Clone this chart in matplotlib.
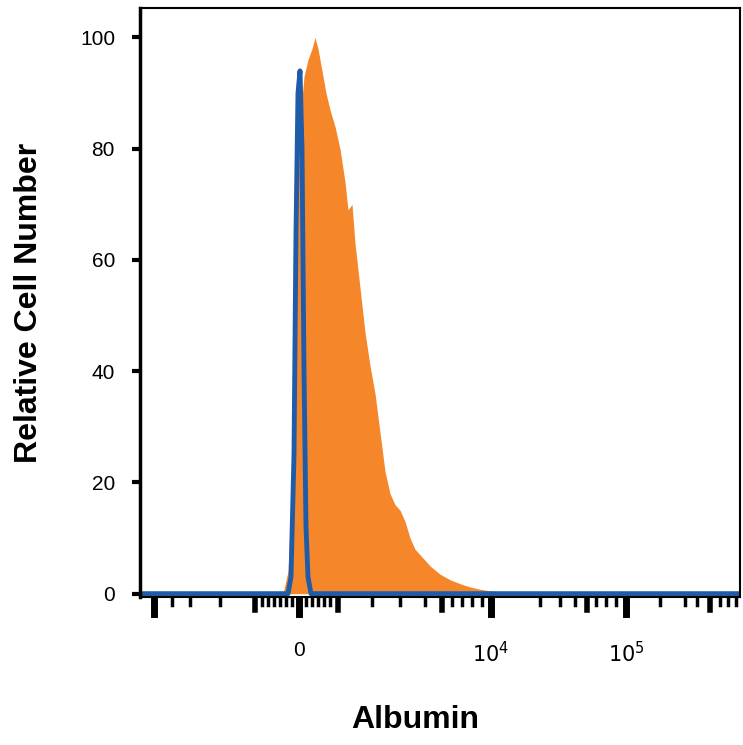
import matplotlib
matplotlib.use("Agg")
import matplotlib.pyplot as plt
import numpy as np

# x in display channel units (biexponential scale positions)
orange_x = [283, 288, 292, 296, 300, 304, 308, 312, 315, 318, 322, 326, 330, 335, 340, 345, 348, 352, 355, 360, 365, 370, 375, 380, 385, 390, 395, 400, 405, 410, 415, 420, 425, 430, 440, 450, 460, 470, 480, 490, 500, 503]
orange_y = [0, 4, 20, 60, 85, 93, 96, 98, 100, 98, 94, 90, 87, 84, 80, 74, 69, 70, 63, 55, 47, 41, 36, 29, 22, 18, 16, 15, 13, 10, 8, 7, 6, 5, 3.5, 2.5, 1.8, 1.2, 0.8, 0.5, 0.3, 0]
blue_x = [140, 288, 291, 294, 296, 298, 300, 302, 304, 306, 308, 311, 740]
blue_y = [0, 0, 3, 25, 65, 90, 94, 80, 40, 12, 3, 0, 0]

major_ticks = [154, 299, 491, 626]
medium_ticks = [255, 338, 442, 587, 710]
minor_ticks = [172, 190, 220, 262, 268, 274, 280, 286, 292, 306, 312, 318, 324, 330, 372, 400, 425, 452, 462, 472, 482,
               540, 560, 575, 596, 606, 616, 660, 685, 697, 720, 728, 736]
tick_labels = {299: "0", 491: "$10^4$", 626: "$10^5$"}
y_ticks = [0, 20, 40, 60, 80, 100]

fig = plt.figure(figsize=(7.43, 7.45), dpi=100)
ax = fig.add_axes([140/743, 148/745, 600/743, 589/745])
ax.fill_between(orange_x, orange_y, color="#f5872a", lw=0)
ax.plot(blue_x, blue_y, color="#1f5ba8", lw=3.5, solid_capstyle="butt")
ax.set_xlim(140, 740)
ax.set_ylim(-0.6, 105.3)

for s in ax.spines.values():
    s.set_linewidth(1.5)
ax.spines["left"].set_linewidth(2.5)

ax.set_xticks([])
for t in major_ticks:
    ax.plot([t, t], [-1.0, -3.6], color="black", lw=5, clip_on=False)
for t in medium_ticks:
    ax.plot([t, t], [-1.0, -3.0], color="black", lw=4, clip_on=False)
for t in minor_ticks:
    ax.plot([t, t], [-1.0, -2.0], color="black", lw=2.5, clip_on=False)
for t, lab in tick_labels.items():
    ax.text(t, -8.5, lab, ha="center", va="top", fontsize=15, family="Liberation Sans")

ax.set_yticks(y_ticks)
ax.set_yticklabels([str(v) for v in y_ticks], fontsize=15, family="Liberation Sans")
ax.tick_params(axis="y", direction="out", length=6, width=3, pad=12)

ax.set_ylabel("Relative Cell Number", fontsize=23, fontweight="bold", family="Liberation Sans", labelpad=26)
fig.text(415/743, 1 - 720/745, "Albumin", ha="center", va="center", fontsize=23, fontweight="bold", family="Liberation Sans")

fig.savefig("out.png", dpi=100)
